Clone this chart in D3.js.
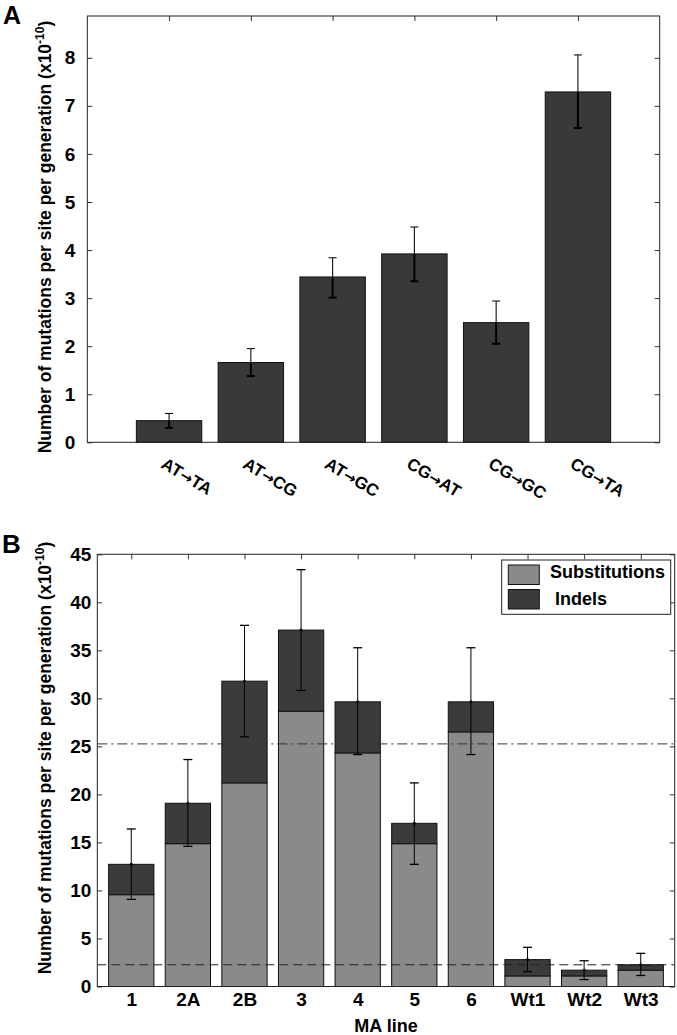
<!DOCTYPE html>
<html><head><meta charset="utf-8">
<script src="https://cdn.jsdelivr.net/npm/d3@7"></script>
<style>
body{margin:0;background:#fff}
text{font-family:"Liberation Sans",Arial,Helvetica,sans-serif;font-weight:bold;fill:#000}
</style>
</head><body>
<svg id="c" width="677" height="1035"></svg>
<script>
// ---------- Panel A data ----------
const catsA = ["AT\u2192TA","AT\u2192CG","AT\u2192GC","CG\u2192AT","CG\u2192GC","CG\u2192TA"];
const valsA = [0.45, 1.66, 3.44, 3.92, 2.49, 7.29];
const errHiA = [0.60, 1.95, 3.84, 4.48, 2.94, 8.06];
const errLoA = [0.30, 1.38, 3.01, 3.35, 2.05, 6.54];
const ticksA = [0,1,2,3,4,5,6,7,8];

// ---------- Panel B data ----------
const catsB = ["1","2A","2B","3","4","5","6","Wt1","Wt2","Wt3"];
const subsB = [9.56, 14.87, 21.2, 28.67, 24.32, 14.87, 26.51, 1.1, 1.1, 1.7];
const indelsB = [3.16, 4.21, 10.59, 8.44, 5.32, 2.12, 3.13, 1.7, 0.6, 0.56];
const errHiB = [16.4, 23.63, 37.6, 43.4, 35.27, 21.2, 35.27, 4.08, 2.68, 3.45];
const errLoB = [9.07, 14.59, 25.99, 30.82, 24.15, 12.72, 24.15, 1.55, 0.72, 1.15];
const ticksB = [0,5,10,15,20,25,30,35,40,45];
const refLinesB = [25.26, 2.26];
const legendLabels = ["Substitutions", " Indels"];

const svg = d3.select("#c");
const colA = "#393939", colSub = "#8a8a8a", colIndel = "#3b3b3b";
const FONT = "'Liberation Sans',Arial,sans-serif";

// ================= PANEL A =================
const xA = d3.scaleLinear().domain([0,7]).range([87.3,659.7]);
const yA = d3.scaleLinear().domain([0,8.87]).range([442.3,16]);
const gA = svg.append("g");
const bwA = xA(0.8) - xA(0);

gA.selectAll("rect.bar").data(valsA).enter().append("rect")
  .attr("x",(d,i)=>xA(i+1)-bwA/2).attr("width",bwA)
  .attr("y",d=>yA(d)).attr("height",d=>yA(0)-yA(d))
  .attr("fill",colA).attr("stroke","#111").attr("stroke-width",1);

// error bars A
valsA.forEach((v,i)=>{
  const cx = xA(i+1);
  gA.append("line").attr("x1",cx).attr("x2",cx).attr("y1",yA(errHiA[i])).attr("y2",yA(v))
    .attr("stroke","#111").attr("stroke-width",1.1);
  gA.append("line").attr("x1",cx).attr("x2",cx).attr("y1",yA(v)).attr("y2",yA(errLoA[i]))
    .attr("stroke","#000").attr("stroke-width",2);
  gA.append("line").attr("x1",cx-4).attr("x2",cx+4).attr("y1",yA(errHiA[i])).attr("y2",yA(errHiA[i]))
    .attr("stroke","#111").attr("stroke-width",1.1);
  gA.append("line").attr("x1",cx-4).attr("x2",cx+4).attr("y1",yA(errLoA[i])).attr("y2",yA(errLoA[i]))
    .attr("stroke","#000").attr("stroke-width",2);
});

// axes A
const axLA = gA.append("g").attr("transform",`translate(${xA(0)},0)`)
  .call(d3.axisLeft(yA).tickValues(ticksA).tickSizeInner(-5).tickSizeOuter(0).tickPadding(12));
const axRA = gA.append("g").attr("transform",`translate(${xA(7)},0)`)
  .call(d3.axisRight(yA).tickValues(ticksA).tickSizeInner(-5).tickSizeOuter(0).tickFormat(""));
const axTA = gA.append("g").attr("transform",`translate(0,${yA(8.87)})`)
  .call(d3.axisTop(xA).tickValues(d3.range(1,7)).tickSizeInner(-5).tickSizeOuter(0).tickFormat(""));
[axLA,axRA,axTA].forEach(a=>{a.select(".domain").remove();a.selectAll("line").attr("stroke","#333");});
axLA.selectAll("text").style("font-size","19px").style("font-family",FONT).style("font-weight","bold").attr("fill","#000");

gA.append("rect").attr("x",xA(0)).attr("y",yA(8.87)).attr("width",xA(7)-xA(0)).attr("height",yA(0)-yA(8.87))
  .attr("fill","none").attr("stroke","#222").attr("stroke-width",1);

// rotated category labels A
const xl = gA.selectAll("text.xl").data(catsA).enter().append("text")
  .attr("transform",(d,i)=>`translate(${xA(i+1)-9},467) rotate(31)`)
  .attr("text-anchor","start").style("font-size","17px");
xl.append("tspan").text(d=>d.split("\u2192")[0]);
xl.append("tspan").style("font-family","'DejaVu Sans',sans-serif").style("font-size","15px").text("\u2192");
xl.append("tspan").text(d=>d.split("\u2192")[1]);

// y label A
const ylA = gA.append("text").attr("transform","translate(51,237) rotate(-90)")
  .attr("text-anchor","middle").style("font-size","17.5px");
ylA.append("tspan").text("Number of mutations per site per generation (x10");
ylA.append("tspan").attr("dy",-7).style("font-size","12px").text("-10");
ylA.append("tspan").attr("dy",7).text(")");

svg.append("text").attr("x",3).attr("y",24).style("font-size","25px").text("A");

// ================= PANEL B =================
const xB = d3.scaleLinear().domain([0.4,10.6]).range([97.3,674.7]);
const yB = d3.scaleLinear().domain([0,45]).range([986.5,554.3]);
const gB = svg.append("g");
const bwB = xB(1.2) - xB(0.4);
const stack = catsB.map((c,i)=>({c,i,s:subsB[i],d:indelsB[i]}));

gB.selectAll("rect.sub").data(stack).enter().append("rect")
  .attr("x",d=>xB(d.i+1)-bwB/2).attr("width",bwB)
  .attr("y",d=>yB(d.s)).attr("height",d=>yB(0)-yB(d.s))
  .attr("fill",colSub).attr("stroke","#111").attr("stroke-width",1);
gB.selectAll("rect.ind").data(stack).enter().append("rect")
  .attr("x",d=>xB(d.i+1)-bwB/2).attr("width",bwB)
  .attr("y",d=>yB(d.s+d.d)).attr("height",d=>yB(d.s)-yB(d.s+d.d))
  .attr("fill",colIndel).attr("stroke","#111").attr("stroke-width",1);

// reference lines
gB.append("line").attr("x1",xB(0.4)).attr("x2",xB(10.6)).attr("y1",yB(refLinesB[0])).attr("y2",yB(refLinesB[0]))
  .attr("stroke","#333").attr("stroke-width",1).attr("stroke-dasharray","10,4,2,4");
gB.append("line").attr("x1",xB(0.4)).attr("x2",xB(10.6)).attr("y1",yB(refLinesB[1])).attr("y2",yB(refLinesB[1]))
  .attr("stroke","#222").attr("stroke-width",1).attr("stroke-dasharray","9,5");

// error bars B
stack.forEach(d=>{
  const cx = xB(d.i+1), hi = yB(errHiB[d.i]), lo = yB(errLoB[d.i]);
  gB.append("line").attr("x1",cx).attr("x2",cx).attr("y1",hi).attr("y2",lo).attr("stroke","#000").attr("stroke-width",1);
  gB.append("line").attr("x1",cx-4.5).attr("x2",cx+4.5).attr("y1",hi).attr("y2",hi).attr("stroke","#000").attr("stroke-width",1.3);
  gB.append("line").attr("x1",cx-4.5).attr("x2",cx+4.5).attr("y1",lo).attr("y2",lo).attr("stroke","#000").attr("stroke-width",1.3);
  gB.append("circle").attr("cx",cx).attr("cy",yB(d.s+d.d)).attr("r",1.5).attr("fill","#000");
});

// axes B
const axLB = gB.append("g").attr("transform",`translate(${xB(0.4)},0)`)
  .call(d3.axisLeft(yB).tickValues(ticksB).tickSizeInner(-5).tickSizeOuter(0).tickPadding(6));
const axRB = gB.append("g").attr("transform",`translate(${xB(10.6)},0)`)
  .call(d3.axisRight(yB).tickValues(ticksB).tickSizeInner(-5).tickSizeOuter(0).tickFormat(""));
const axTB = gB.append("g").attr("transform",`translate(0,${yB(45)})`)
  .call(d3.axisTop(xB).tickValues(d3.range(1,11)).tickSizeInner(-5).tickSizeOuter(0).tickFormat(""));
const axBB = gB.append("g").attr("transform",`translate(0,${yB(0)})`)
  .call(d3.axisBottom(xB).tickValues(d3.range(1,11)).tickSizeInner(0).tickSizeOuter(0).tickPadding(6).tickFormat((d)=>catsB[d-1]));
[axLB,axRB,axTB,axBB].forEach(a=>{a.select(".domain").remove();a.selectAll("line").attr("stroke","#333");});
[axLB,axBB].forEach(a=>a.selectAll("text").style("font-size","19px").style("font-family",FONT).style("font-weight","bold").attr("fill","#000"));

gB.append("rect").attr("x",xB(0.4)).attr("y",yB(45)).attr("width",xB(10.6)-xB(0.4)).attr("height",yB(0)-yB(45))
  .attr("fill","none").attr("stroke","#222").attr("stroke-width",1);

// legend
const lg = gB.append("g");
lg.append("rect").attr("x",501.7).attr("y",560).attr("width",169).attr("height",54.3)
  .attr("fill","#fff").attr("stroke","#222").attr("stroke-width",1);
const legCols = [colSub,colIndel];
legendLabels.forEach((t,i)=>{
  lg.append("rect").attr("x",508.3).attr("y",565+i*24.5).attr("width",31).attr("height",19.5)
    .attr("fill",legCols[i]).attr("stroke","#111").attr("stroke-width",1);
  lg.append("text").attr("x",550).attr("y",577.5+i*27.5).style("font-size","18px").style("white-space","pre").attr("xml:space","preserve").text(t);
});

// axis titles B
svg.append("text").attr("x",xB(5.5)).attr("y",1031.5).attr("text-anchor","middle").style("font-size","18px").text("MA line");
const ylB = gB.append("text").attr("transform","translate(51,758) rotate(-90)")
  .attr("text-anchor","middle").style("font-size","17.5px");
ylB.append("tspan").text("Number of mutations per site per generation (x10");
ylB.append("tspan").attr("dy",-7).style("font-size","12px").text("-10");
ylB.append("tspan").attr("dy",7).text(")");

svg.append("text").attr("x",2).attr("y",553).style("font-size","26px").text("B");
</script>
</body></html>
